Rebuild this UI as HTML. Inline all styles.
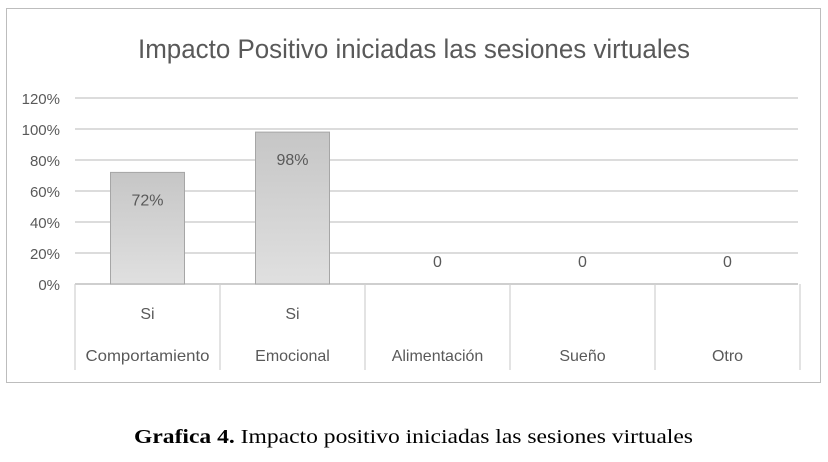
<!DOCTYPE html>
<html><head><meta charset="utf-8"><style>
body{margin:0;background:#fff;width:828px;height:457px;overflow:hidden}
svg text{font-family:"Liberation Sans",sans-serif}
</style></head><body>
<svg id="chart" width="828" height="457" viewBox="0 0 828 457" xmlns="http://www.w3.org/2000/svg">
<rect x="6.5" y="8.5" width="814" height="374" fill="#fff" stroke="#bdbdbd"/>
<text x="414" y="58" text-anchor="middle" font-size="27" fill="#595959" textLength="552" lengthAdjust="spacingAndGlyphs">Impacto Positivo iniciadas las sesiones virtuales</text>
<defs><linearGradient id="bg" x1="0" y1="0" x2="0" y2="1"><stop offset="0" stop-color="#c6c6c6"/><stop offset="1" stop-color="#e0e0e0"/></linearGradient></defs>
<g id="grid"></g><g id="bars"></g><g id="labels"></g>
<text x="134" y="443" font-size="20" fill="#000" textLength="559" lengthAdjust="spacingAndGlyphs" style="font-family:'Liberation Serif',serif"><tspan font-weight="bold">Grafica 4.</tspan>  Impacto positivo iniciadas las sesiones virtuales</text>
</svg>
<script>
const categories=["Comportamiento","Emocional","Alimentación","Sueño","Otro"];
const subLabels=["Si","Si","","",""];
const values=[72,98,0,0,0];
const valueLabels=["72%","98%","0","0","0"];
const ticks=[0,20,40,60,80,100,120];
const ns="http://www.w3.org/2000/svg";
const x0=75,x1=800,y0=284,yTop=98,maxV=120;
const bw=(x1-x0)/categories.length;
const y=v=>y0-(v/maxV)*(y0-yTop);
function mk(t,a,p,txt){const e=document.createElementNS(ns,t);for(const k in a)e.setAttribute(k,a[k]);if(txt!==undefined)e.textContent=txt;p.appendChild(e);return e;}
const g=document.getElementById('grid'),b=document.getElementById('bars'),l=document.getElementById('labels');
ticks.forEach(t=>{
 const ln=mk('line',{x1:x0,x2:x1-2,y1:y(t),y2:y(t),stroke:t===0?'#bfbfbf':'#d0d0d0','stroke-width':1.5},g);
 
 
 const tx=mk('text',{x:60,y:y(t)+6,'text-anchor':'end','font-size':15,fill:'#595959'},g,t+'%');
 
 
});
for(let i=0;i<=categories.length;i++){
 const ln=mk('line',{x1:x0+i*bw,x2:x0+i*bw,y1:y0,y2:370,stroke:'#d0d0d0','stroke-width':1.2},g);
 
 
}
categories.forEach((c,i)=>{
 const cx=x0+bw*(i+0.5);
 if(values[i]>0){
  const r=mk('rect',{x:cx-37,y:y(values[i]),width:74,height:y0-y(values[i]),fill:'url(#bg)',stroke:'#a6a6a6'},b);
  
  
 }
 const ly=values[i]>10?y(values[i])+33:y0-17;
 const v=mk('text',{x:cx,y:ly,'text-anchor':'middle','font-size':16,fill:'#595959'},l,valueLabels[i]);
 
 
 if(subLabels[i]){
  const s=mk('text',{x:cx,y:319,'text-anchor':'middle','font-size':16,fill:'#595959'},l,subLabels[i]);
  
  
 }
 const t=mk('text',{x:cx,y:361,'text-anchor':'middle','font-size':16,fill:'#595959'},l,c);
 if(c.length>12){t.setAttribute('textLength',124);t.setAttribute('lengthAdjust','spacingAndGlyphs');}
 
 
});
</script>
</body></html>
